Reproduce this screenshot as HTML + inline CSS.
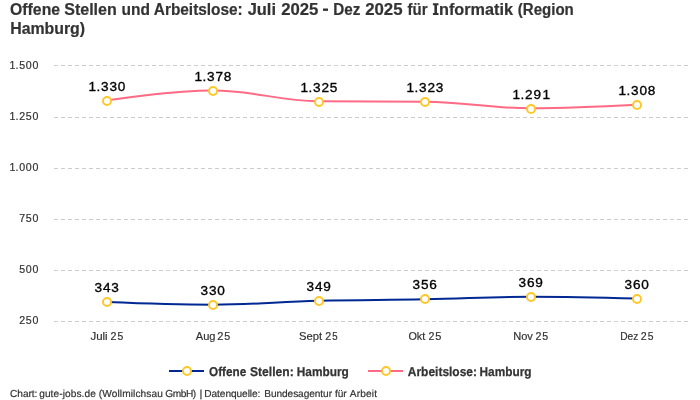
<!DOCTYPE html>
<html lang="de">
<head>
<meta charset="utf-8">
<title>Offene Stellen und Arbeitslose</title>
<style>
html,body{margin:0;padding:0;background:#ffffff;}
body{width:700px;height:400px;overflow:hidden;font-family:"Liberation Sans",sans-serif;}
svg{display:block;font-family:"Liberation Sans",sans-serif;will-change:transform;}
.title{font-size:16px;font-weight:bold;fill:#333333;stroke:#333333;stroke-width:0.2px;}
.ylab{font-size:10.6px;fill:#333333;stroke:#333333;stroke-width:0.2px;}
.xlab{font-size:11.5px;fill:#333333;stroke:#333333;stroke-width:0.2px;}
.dl{font-size:13.6px;fill:#000000;stroke:#000000;stroke-width:0.35px;}
.leg{font-size:12.8px;text-rendering:geometricPrecision;font-weight:bold;fill:#333333;stroke:#333333;stroke-width:0.25px;}
.foot{font-size:10.15px;text-rendering:geometricPrecision;fill:#333333;stroke:#333333;stroke-width:0.2px;}
.grid{stroke:#cccccc;stroke-width:1;stroke-dasharray:4 3;fill:none;}
.mk{fill:#ffffff;stroke:#ffc828;stroke-width:2;}
</style>
</head>
<body>
<svg width="700" height="400" viewBox="0 0 700 400">
<g class="title">
<text x="10.10" y="15" textLength="49.95" lengthAdjust="spacingAndGlyphs">Offene</text>
<text x="64.25" y="15" textLength="52.50" lengthAdjust="spacingAndGlyphs">Stellen</text>
<text x="121.55" y="15" textLength="28.45" lengthAdjust="spacingAndGlyphs">und</text>
<text x="153.80" y="15" textLength="88.95" lengthAdjust="spacingAndGlyphs">Arbeitslose:</text>
<text x="247.70" y="15" textLength="28.30" lengthAdjust="spacingAndGlyphs">Juli</text>
<text x="281.20" y="15" textLength="37.15" lengthAdjust="spacingAndGlyphs">2025</text>
<text x="333.25" y="15" textLength="27.10" lengthAdjust="spacingAndGlyphs">Dez</text>
<text x="365.15" y="15" textLength="37.35" lengthAdjust="spacingAndGlyphs">2025</text>
<text x="407.60" y="15" textLength="19.95" lengthAdjust="spacingAndGlyphs">für</text>
<text x="439.00" y="15" textLength="73.95" lengthAdjust="spacingAndGlyphs">nformatik</text>
<text x="517.80" y="15" textLength="55.95" lengthAdjust="spacingAndGlyphs">(Region</text>
<text x="10.20" y="34" textLength="74.90" lengthAdjust="spacingAndGlyphs">Hamburg)</text>
</g>
<rect x="323" y="8.5" width="5" height="2.4" fill="#333333"/>
<path d="M 432.9 3.3 H 438.5 V 5.3 H 437.0 V 13.0 H 438.5 V 15 H 432.9 V 13.0 H 434.4 V 5.3 H 432.9 Z" fill="#333333"/>
<g class="grid">
<path d="M 54 65.5 L 690 65.5"/>
<path d="M 54 117.5 L 690 117.5"/>
<path d="M 54 168.5 L 690 168.5"/>
<path d="M 54 219.5 L 690 219.5"/>
<path d="M 54 270.5 L 690 270.5"/>
<path d="M 54 321.5 L 690 321.5"/>
</g>
<g class="ylab">
<text x="9.46 15.58 19.25 25.85 32.45" y="69">1.500</text>
<text x="9.46 15.58 19.25 25.85 32.45" y="120">1.250</text>
<text x="9.46 15.58 19.25 25.85 32.45" y="171">1.000</text>
<text x="19.25 25.85 32.45" y="222">750</text>
<text x="19.25 25.85 32.45" y="273">500</text>
<text x="19.25 25.85 32.45" y="324">250</text>
</g>
<g class="xlab">
<text x="90.45" y="340" textLength="17.25" lengthAdjust="spacingAndGlyphs">Juli</text>
<text x="110.55" y="340" textLength="5.95" lengthAdjust="spacingAndGlyphs">2</text>
<text x="117.50" y="340" textLength="5.80" lengthAdjust="spacingAndGlyphs">5</text>
<text x="195.80" y="340" textLength="19.70" lengthAdjust="spacingAndGlyphs">Aug</text>
<text x="217.15" y="340" textLength="6.20" lengthAdjust="spacingAndGlyphs">2</text>
<text x="224.15" y="340" textLength="6.00" lengthAdjust="spacingAndGlyphs">5</text>
<text x="299.10" y="340" textLength="23.10" lengthAdjust="spacingAndGlyphs">Sept</text>
<text x="325.35" y="340" textLength="5.95" lengthAdjust="spacingAndGlyphs">2</text>
<text x="332.35" y="340" textLength="5.40" lengthAdjust="spacingAndGlyphs">5</text>
<text x="408.40" y="340" textLength="16.80" lengthAdjust="spacingAndGlyphs">Okt</text>
<text x="428.55" y="340" textLength="5.95" lengthAdjust="spacingAndGlyphs">2</text>
<text x="435.30" y="340" textLength="6.15" lengthAdjust="spacingAndGlyphs">5</text>
<text x="513.25" y="340" textLength="19.65" lengthAdjust="spacingAndGlyphs">Nov</text>
<text x="535.55" y="340" textLength="5.95" lengthAdjust="spacingAndGlyphs">2</text>
<text x="542.35" y="340" textLength="5.95" lengthAdjust="spacingAndGlyphs">5</text>
<text x="620.15" y="340" textLength="18.15" lengthAdjust="spacingAndGlyphs">Dez</text>
<text x="640.85" y="340" textLength="5.95" lengthAdjust="spacingAndGlyphs">2</text>
<text x="647.85" y="340" textLength="5.75" lengthAdjust="spacingAndGlyphs">5</text>
</g>
<path d="M 107.00 302.00 C 107.00 302.00 170.60 304.65 213.00 304.65 C 255.40 304.65 276.60 301.83 319.00 300.77 C 361.40 299.71 382.60 300.16 425.00 299.34 C 467.40 298.52 488.60 296.68 531.00 296.68 C 573.40 296.68 637.00 298.52 637.00 298.52" fill="none" stroke="#002893" stroke-width="2" stroke-linecap="round" stroke-linejoin="round"/>
<path d="M 107.00 100.30 C 107.00 100.30 170.60 90.49 213.00 90.49 C 255.40 90.49 276.60 100.92 319.00 101.32 C 361.40 101.73 382.60 101.32 425.00 101.73 C 467.40 102.14 488.60 108.27 531.00 108.27 C 573.40 108.27 637.00 104.80 637.00 104.80" fill="none" stroke="#ff6a84" stroke-width="2" stroke-linecap="round" stroke-linejoin="round"/>
<g class="mk">
<circle cx="107" cy="302" r="4"/>
<circle cx="213" cy="305" r="4"/>
<circle cx="319" cy="301" r="4"/>
<circle cx="425" cy="299" r="4"/>
<circle cx="531" cy="297" r="4"/>
<circle cx="637" cy="299" r="4"/>
<circle cx="107" cy="101" r="4"/>
<circle cx="213" cy="91" r="4"/>
<circle cx="319" cy="102" r="4"/>
<circle cx="425" cy="102" r="4"/>
<circle cx="531" cy="109" r="4"/>
<circle cx="637" cy="105" r="4"/>
</g>
<g class="dl">
<text x="88.57 96.41 101.07 109.47 117.87" y="91">1.330</text>
<text x="194.57 202.41 207.07 215.47 223.87" y="81">1.378</text>
<text x="300.57 308.41 313.07 321.47 329.87" y="92">1.325</text>
<text x="406.57 414.41 419.07 427.47 435.87" y="92">1.323</text>
<text x="512.57 520.41 525.07 533.47 542.47" y="99">1.291</text>
<text x="618.57 626.41 631.07 639.47 647.87" y="95">1.308</text>
<text x="94.52 102.92 111.32" y="292">343</text>
<text x="200.52 208.92 217.32" y="295">330</text>
<text x="306.52 314.92 323.32" y="291">349</text>
<text x="412.52 420.92 429.32" y="289">356</text>
<text x="518.52 526.92 535.32" y="287">369</text>
<text x="624.52 632.92 641.32" y="289">360</text>
</g>
<path d="M 169 371 L 204 371" stroke="#002893" stroke-width="2" fill="none"/>
<circle class="mk" cx="187" cy="371" r="4"/>
<path d="M 368 371 L 403 371" stroke="#ff6a84" stroke-width="2" fill="none"/>
<circle class="mk" cx="386" cy="371" r="4"/>
<g class="leg">
<text x="209.00" y="375.7" textLength="37.25" lengthAdjust="spacingAndGlyphs">Offene</text>
<text x="249.95" y="375.7" textLength="43.75" lengthAdjust="spacingAndGlyphs">Stellen:</text>
<text x="296.80" y="375.7" textLength="52.05" lengthAdjust="spacingAndGlyphs">Hamburg</text>
<text x="407.80" y="375.7" textLength="69.20" lengthAdjust="spacingAndGlyphs">Arbeitslose:</text>
<text x="479.50" y="375.7" textLength="52.00" lengthAdjust="spacingAndGlyphs">Hamburg</text>
</g>
<g class="foot">
<text x="10.05" y="397" textLength="27.40" lengthAdjust="spacing">Chart:</text>
<text x="39.20" y="397" textLength="56.60" lengthAdjust="spacing">gute-jobs.de</text>
<text x="98.80" y="397" textLength="64.00" lengthAdjust="spacing">(Wollmilchsau</text>
<text x="165.20" y="397" textLength="31.00" lengthAdjust="spacing">GmbH)</text>
<text x="199.55" y="397" textLength="2.90" lengthAdjust="spacingAndGlyphs">|</text>
<text x="204.25" y="397" textLength="56.20" lengthAdjust="spacing">Datenquelle:</text>
<text x="264.25" y="397" textLength="67.75" lengthAdjust="spacing">Bundesagentur</text>
<text x="335.00" y="397" textLength="11.55" lengthAdjust="spacing">für</text>
<text x="349.75" y="397" textLength="27.25" lengthAdjust="spacing">Arbeit</text>
</g>
</svg>
</body>
</html>
